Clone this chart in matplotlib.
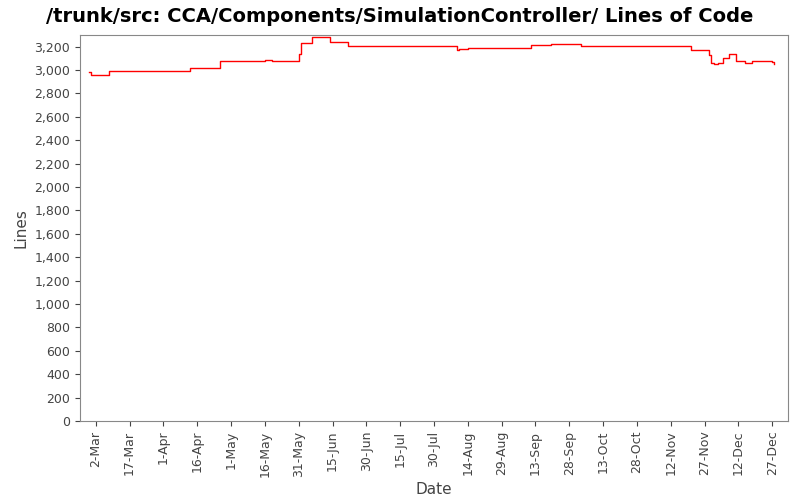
import matplotlib
matplotlib.use('Agg')
import matplotlib.pyplot as plt
import matplotlib.dates as mdates
import matplotlib.ticker as mticker
import pandas as pd

# commit dates and line counts
dates = ['2009-02-27', '2009-02-28', '2009-03-08', '2009-04-13', '2009-04-26',
         '2009-05-16', '2009-05-19', '2009-05-31', '2009-06-01', '2009-06-06',
         '2009-06-13', '2009-06-14', '2009-06-22', '2009-08-09', '2009-08-10',
         '2009-08-14', '2009-09-11', '2009-09-20', '2009-10-03', '2009-11-21',
         '2009-11-29', '2009-11-30', '2009-12-01', '2009-12-03', '2009-12-05',
         '2009-12-08', '2009-12-11', '2009-12-14', '2009-12-15', '2009-12-18',
         '2009-12-27', '2009-12-28']
lines = [2980, 2960, 2990, 3015, 3075,
         3085, 3075, 3140, 3230, 3285,
         3280, 3240, 3210, 3170, 3180,
         3190, 3215, 3225, 3205, 3175,
         3130, 3060, 3050, 3060, 3100,
         3135, 3080, 3075, 3060, 3075,
         3070, 3055]
tick_dates = pd.date_range('2009-03-02', '2009-12-27', freq='15D')

x = pd.to_datetime(dates)

fig = plt.figure(figsize=(8, 5), dpi=100)
ax = fig.add_axes([0.1, 0.158, 0.885, 0.772])
ax.step(x, lines, where='post', color='red', linewidth=1)
ax.set_xlim(pd.Timestamp('2009-02-23'), pd.Timestamp('2010-01-03'))
ax.set_ylim(0, 3300)
ax.set_xticks(tick_dates)
ax.xaxis.set_major_formatter(mdates.DateFormatter('%-d-%b'))
plt.setp(ax.get_xticklabels(), rotation=90)
ax.yaxis.set_major_locator(mticker.MultipleLocator(200))
ax.yaxis.set_major_formatter(mticker.FuncFormatter(lambda v, p: f'{int(v):,}'))
ax.tick_params(labelsize=9, colors='#444444')
for s in ax.spines.values():
    s.set_color('#888888')
ax.set_xlabel('Date', fontsize=11, color='#444444')
ax.set_ylabel('Lines', fontsize=11, color='#444444')
fig.suptitle('/trunk/src: CCA/Components/SimulationController/ Lines of Code',
             fontsize=14, fontweight='bold', y=0.985)
fig.savefig('out.png')
